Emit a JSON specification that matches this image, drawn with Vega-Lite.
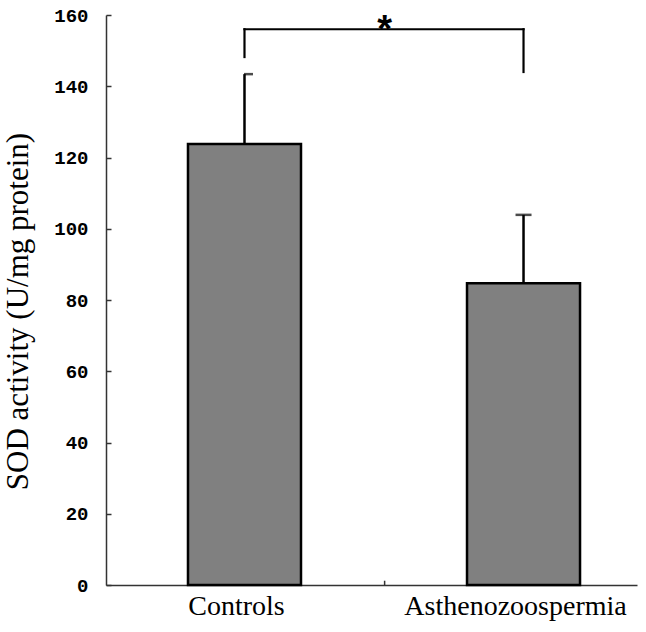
{
  "$schema": "https://vega.github.io/schema/vega-lite/v6.json",
  "width": 531,
  "height": 570,
  "autosize": {"type": "none"},
  "padding": {"left": 106, "top": 15, "right": 9, "bottom": 47},
  "background": "white",
  "config": {"view": {"stroke": null}},
  "datasets": {
    "bars": [
      {"group": "Controls", "value": 123.8, "upper": 143.4},
      {"group": "Asthenozoospermia", "value": 84.7, "upper": 103.9}
    ],
    "bracket": [
      {"group": "Controls", "group2": "Controls", "value": 156, "value2": 148.2},
      {"group": "Asthenozoospermia", "group2": "Asthenozoospermia", "value": 156, "value2": 144},
      {"group": "Controls", "group2": "Asthenozoospermia", "value": 156, "value2": 156}
    ],
    "star": [{"group": "Controls", "value": 152.4, "label": "*"}],
    "xtick": [{"group": "Controls", "value": 0, "value2": 1.2}]
  },
  "layer": [
    {
      "data": {"name": "bars"},
      "mark": {"type": "bar", "fill": "#808080", "stroke": "#000000", "strokeWidth": 2.5},
      "encoding": {
        "x": {
          "field": "group",
          "type": "nominal",
          "sort": null,
          "scale": {"domain": ["Controls", "Asthenozoospermia"], "paddingInner": 0.595, "paddingOuter": 0.249, "align": 0.59},
          "axis": {
            "title": null,
            "labelAngle": 0,
            "ticks": false,
            "domainColor": "#333333",
            "domainWidth": 1.5,
            "labelFont": "Liberation Serif",
            "labelFontSize": 28,
            "labelColor": "#000000",
            "labelPadding": 7,
            "labelLimit": 0,
            "labelOffset": -8
          }
        },
        "y": {
          "field": "value",
          "type": "quantitative",
          "scale": {"domain": [0, 160], "nice": false},
          "axis": {
            "title": "SOD activity (U/mg protein)",
            "values": [0, 20, 40, 60, 80, 100, 120, 140, 160],
            "grid": false,
            "tickSize": -5,
            "tickColor": "#333333",
            "tickWidth": 1.5,
            "domainColor": "#333333",
            "domainWidth": 1.5,
            "labelFont": "Liberation Mono",
            "labelFontWeight": "bold",
            "labelFontSize": 19,
            "labelColor": "#000000",
            "labelPadding": 23,
            "titleFont": "Liberation Serif",
            "titleFontWeight": "normal",
            "titleFontSize": 31,
            "titleColor": "#000000",
            "titleX": -72,
            "titleY": 296
          }
        }
      }
    },
    {
      "data": {"name": "bars"},
      "mark": {"type": "rule", "color": "#000000", "strokeWidth": 2.5},
      "encoding": {
        "x": {"field": "group", "type": "nominal", "bandPosition": 0.5},
        "y": {"field": "value", "type": "quantitative"},
        "y2": {"field": "upper"}
      }
    },
    {
      "data": {"name": "bars"},
      "transform": [{"filter": "datum.group === 'Asthenozoospermia'"}],
      "mark": {"type": "tick", "color": "#000000", "thickness": 2.5, "size": 16, "orient": "horizontal"},
      "encoding": {
        "x": {"field": "group", "type": "nominal"},
        "y": {"field": "upper", "type": "quantitative"}
      }
    },
    {
      "data": {"name": "bars"},
      "transform": [{"filter": "datum.group === 'Controls'"}],
      "mark": {"type": "tick", "color": "#000000", "thickness": 2.5, "size": 9, "orient": "horizontal", "xOffset": 4},
      "encoding": {
        "x": {"field": "group", "type": "nominal"},
        "y": {"field": "upper", "type": "quantitative"}
      }
    },
    {
      "data": {"name": "bracket"},
      "mark": {"type": "rule", "color": "#000000", "strokeWidth": 2.2, "strokeCap": "square"},
      "encoding": {
        "x": {"field": "group", "type": "nominal", "bandPosition": 0.5},
        "x2": {"field": "group2"},
        "y": {"field": "value", "type": "quantitative"},
        "y2": {"field": "value2"}
      }
    },
    {
      "data": {"name": "xtick"},
      "mark": {"type": "rule", "color": "#333333", "strokeWidth": 1.5},
      "encoding": {
        "x": {"field": "group", "type": "nominal", "bandPosition": 1.74},
        "y": {"field": "value", "type": "quantitative"},
        "y2": {"field": "value2"}
      }
    },
    {
      "data": {"name": "star"},
      "mark": {"type": "text", "font": "Liberation Sans", "fontWeight": "bold", "fontSize": 38, "color": "#000000", "baseline": "alphabetic", "align": "center"},
      "encoding": {
        "x": {"field": "group", "type": "nominal", "bandPosition": 1.74},
        "y": {"field": "value", "type": "quantitative"},
        "text": {"field": "label"}
      }
    }
  ]
}
